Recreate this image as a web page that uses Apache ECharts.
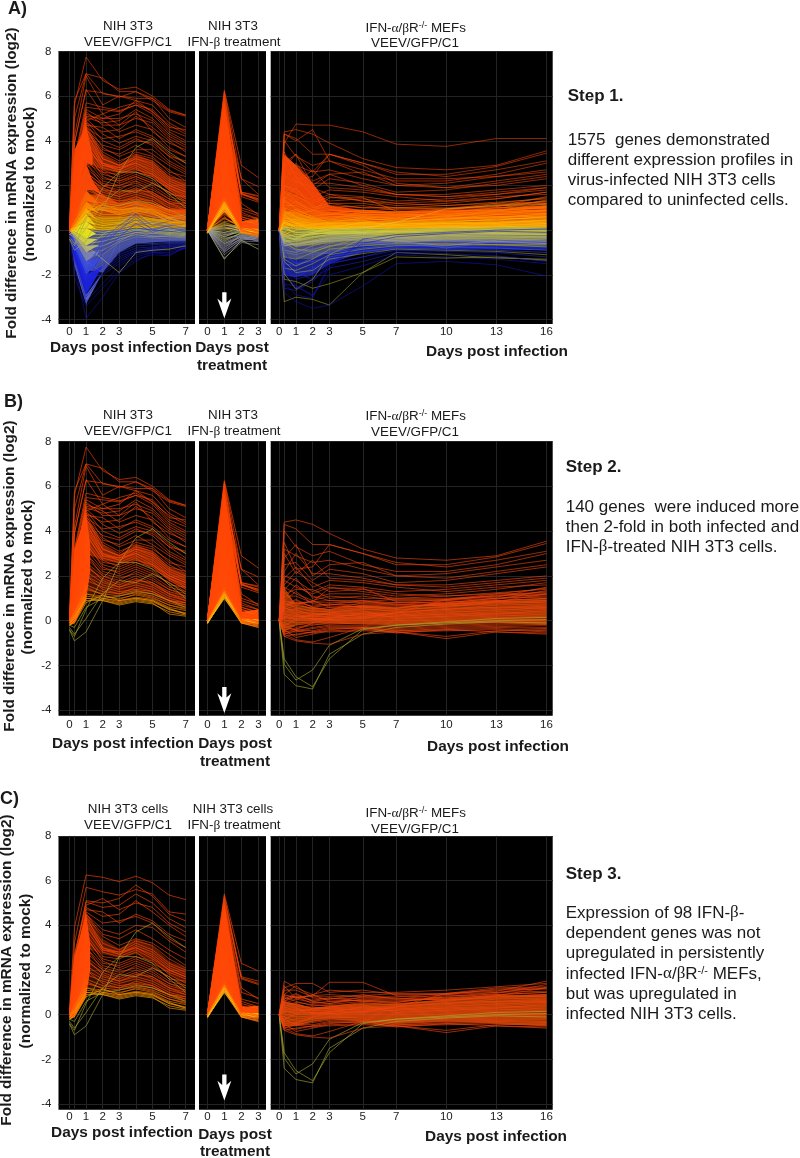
<!DOCTYPE html>
<html><head><meta charset="utf-8">
<style>html,body{margin:0;padding:0;background:#fff}#c{width:800px;height:1158px}</style>
<script src="https://cdn.jsdelivr.net/npm/echarts@6/dist/echarts.min.js"></script>
</head><body><div id="c"></div>
<script>
// ---------- axis values ----------
const daysInfected = [0,0.3,1,2,3,4,5,6,7];
const daysTreated = [0,1,2,3];
const daysMEF = [0,0.3,1,2,3,5,7,10,13,16];
const labelsInfected = [0,1,2,3,5,7];
const labelsTreated = [0,1,2,3];
const labelsMEF = [0,1,2,3,5,7,10,13,16];
const foldTicks = [-4,-2,0,2,4,6,8];

// ---------- 98 IFN-dependent genes (present in panels A, B and C) ----------
const coreInfected = [
[0,3.9,6.25,6.15,5.95,6.2,5.9,5.35,5.15],[0,3.2,5.7,5.5,5.35,5.6,5.4,4.6,4.5],[0,2.6,5.1,5.0,5.2,5.8,5.3,4.5,4.2],
[0,2.4,5.05,4.8,4.9,5.4,5.0,4.3,3.9],[0,2.7,4.9,5.2,4.7,5.0,4.8,4.1,3.7],[0,2.2,4.8,4.4,4.5,5.1,4.6,4.0,3.5],
[0,1.9,4.7,4.6,4.1,4.5,4.2,3.6,3.3],[0,2.0,4.6,4.1,4.2,4.4,4.1,3.4,3.0],[0,1.7,4.5,3.8,3.6,4.0,3.9,3.3,2.8],
[0,1.5,4.5,3.6,3.4,3.8,3.4,2.9,2.5],[0,1.8,4.4,3.5,3.1,3.4,3.2,2.7,2.2],[0,1.3,4.3,3.2,2.9,3.3,3.1,2.5,2.1],
[0,1.1,4.2,3.0,2.8,3.2,2.9,2.3,2.0],[0,1.4,4.0,2.9,2.7,3.0,2.7,2.1,1.8],[0,1.0,3.8,2.8,2.6,2.9,2.5,2.0,1.7],
[0,0.9,3.6,2.6,2.5,2.8,2.3,1.9,1.6],[0,1.2,3.4,2.5,2.3,2.6,2.4,1.8,1.4],[0,0.8,3.2,2.3,2.2,2.5,2.2,1.6,1.5],
[0,0.7,3.0,2.2,2.0,2.3,2.0,1.5,1.3],[0,1.0,2.8,2.1,1.9,2.1,1.8,1.4,1.2],[0,0.6,2.6,2.0,1.7,2.0,1.7,1.3,1.1],
[0,0.8,2.4,1.9,1.6,1.9,1.6,1.2,1.0],[0,0.5,2.2,1.7,1.5,1.7,1.5,1.1,0.9],[0,0.4,2.0,1.6,1.4,1.6,1.4,1.0,0.8],
[0,0.6,1.8,1.5,1.3,1.4,1.3,0.9,0.8],[0,0.3,1.6,1.3,1.2,1.35,1.2,0.9,0.7],[0,0.2,1.4,1.2,1.1,1.25,1.1,0.8,0.6],
[0,0.4,1.2,1.1,1.0,1.15,1.0,0.7,0.55],[-0.1,0.1,1.1,1.0,0.9,1.05,0.95,0.6,0.45],[-0.1,0.2,1.0,0.95,0.8,0.95,0.85,0.5,0.35],
[-0.2,0,0.9,0.9,0.7,0.85,0.75,0.4,0.25],[-0.2,-0.1,0.8,1.15,0.9,1.0,0.9,0.55,0.3],
[-0.4,-0.9,-0.5,0.9,2.6,3.7,4.1,3.5,3.0],[-0.3,-0.6,0.1,1.2,1.8,1.7,2.1,1.7,1.2],[-0.4,-0.7,0.5,1.9,2.6,2.6,2.3,1.6,1.0],[-0.2,-0.3,0.6,1.0,1.1,1.3,1.2,0.9,0.6]];
const coreTreated = [
[0,5.4,2.3,1.95],[0,5.3,1.7,1.5],[0,5.2,1.65,1.4],[0,5.1,1.6,1.35],[0,5.0,1.2,0.7],[0,4.9,1.0,0.75],[0,4.8,0.7,0.5],[0,4.7,0.5,0.3],[0,4.5,0.6,0.35],
[0,4.3,0.4,0.2],[0,4.1,0.35,0.25],[0,3.9,0.3,0.1],[0,3.7,0.4,0.15],[0,3.5,0.25,0.3],[0,3.3,0.2,0.1],[0,3.1,0.3,0.2],[0,2.9,0.15,0.05],[0,2.7,0.1,0],
[0,2.5,0.2,0.15],[0,2.3,0.1,0.05],[0,2.1,0.25,0.1],[0,1.9,0.05,-0.05],[0,1.8,0.15,0.1],[0,1.7,0,-0.1],[0,1.5,0.1,0.05],[0,1.4,0.05,0],[0,1.3,0,-0.05],
[0,1.25,-0.05,-0.1],[0,1.2,0.1,0],[-0.1,1.15,0,-0.1],[-0.1,1.1,-0.05,-0.15],[-0.1,1.05,-0.1,-0.15],[-0.1,1.0,0,-0.1],[-0.15,1.1,0.05,0.05],[-0.1,1.2,-0.05,-0.05],[-0.05,1.3,0,0]];
const coreMEF = [
[0,0.85,0.8,0.85,1.45,1.45,0.85,0.75,0.85,0.8],[0,0.9,0.75,0.85,0.9,0.8,0.8,0.95,1.2,1.25],[0,0.6,0.9,0.6,0.7,0.9,0.7,0.9,1.15,1.2],
[0,0.7,0.8,0.5,0.6,0.65,0.55,0.8,1.0,1.05],[0,0.5,0.7,0.55,0.5,0.7,0.65,0.7,0.9,1.0],[0,0.8,0.6,0.4,0.45,0.6,0.5,0.6,0.85,0.9],
[0,0.4,0.55,0.45,0.4,0.5,0.45,0.65,0.75,0.85],[0,0.55,0.45,0.3,0.35,0.55,0.4,0.5,0.7,0.75],[0,0.3,0.5,0.25,0.3,0.4,0.35,0.55,0.6,0.7],
[0,0.6,0.35,0.35,0.25,0.35,0.3,0.45,0.55,0.65],[0,0.2,0.4,0.2,0.3,0.3,0.25,0.4,0.45,0.6],[0,0.45,0.3,0.15,0.2,0.25,0.2,0.3,0.4,0.5],
[0,0.1,0.2,0.2,0.15,0.3,0.15,0.25,0.35,0.4],[0,0.3,0.1,0.1,0.1,0.2,0.1,0.2,0.3,0.35],[0,-0.1,0.25,0.05,0.15,0.15,0.05,0.15,0.2,0.3],
[0,0.15,0.05,0,0.05,0.1,0,0.1,0.15,0.2],[0,-0.2,0,0.1,0,0.05,-0.05,0.05,0.1,0.15],[0,0.05,-0.1,-0.05,-0.05,0,-0.1,0,0.05,0.05],
[0,-0.3,-0.2,-0.1,-0.1,-0.05,-0.15,-0.05,0,0],[0,-0.1,-0.3,-0.15,-0.15,-0.1,-0.2,-0.1,-0.05,-0.05],[0,-0.4,-0.35,-0.2,-0.1,-0.15,-0.25,-0.15,-0.1,-0.1],
[0,-0.2,-0.45,-0.3,-0.2,-0.2,-0.3,-0.2,-0.15,-0.15],[0,-0.5,-0.5,-0.35,-0.25,-0.25,-0.35,-0.25,-0.2,-0.2],[0,-0.3,-0.4,-0.45,-0.3,-0.3,-0.4,-0.3,-0.25,-0.3],
[0,-0.55,-0.65,-0.5,-0.35,-0.35,-0.45,-0.35,-0.3,-0.35],[0,-0.4,-0.75,-0.6,-0.45,-0.4,-0.5,-0.7,-0.45,-0.4],[0,-0.6,-0.85,-0.95,-0.75,-0.3,-0.55,-0.4,-0.35,-0.45],
[0,-0.7,-0.6,-0.5,-0.5,-0.45,-0.5,-0.45,-0.4,-0.5],[0,0.2,0.05,0.3,0.25,0.2,0.35,0.5,0.6,0.6],[0,0.35,0.2,0.05,0.1,0.35,0.25,0.35,0.5,0.55],
[0,-0.25,0.15,0.25,0.35,0.45,0.1,0.2,0.25,0.25],[0,0.15,0.3,0.1,0.05,0.15,0.2,0.3,0.3,0.45],
[0,-1.95,-2.65,-2.2,-1.1,-0.35,-0.2,-0.05,0.1,0.15],[0,-1.7,-2.5,-2.95,-1.7,-0.4,-0.2,-0.1,0,0.05],[0,-2.4,-2.9,-3.05,-1.5,-0.6,-0.3,-0.15,-0.05,-0.1],[0,-0.5,-0.4,-0.1,0.05,0.1,0.35,0.95,1.1,1.15]];

// ---------- remaining genes of the 140 induced set (panels A and B) ----------
const inducedInfected = [
[0,5.6,7.75,6.7,6.3,6.4,6.0,5.4,5.15],[0,5.8,7.0,6.8,6.2,6.2,5.8,5.3,5.1],[0,5.0,7.0,6.1,6.0,5.9,5.9,5.0,4.6],[0,4.2,6.9,5.6,6.0,5.8,5.6,4.8,4.4],
[0,3.9,6.3,5.2,5.5,5.7,5.3,4.7,4.3],[0,3.1,5.5,5.4,5.3,5.6,5.2,4.4,4.0],[0,2.9,5.4,5.0,5.0,5.2,4.9,4.2,3.8],[0,2.5,5.3,4.7,4.7,5.3,4.4,3.9,3.6],
[0,2.2,5.2,4.9,4.4,4.7,4.5,3.7,3.3],[0,2.4,5.0,4.3,3.9,4.2,4.0,3.3,3.1],[0,2.0,4.9,4.0,3.7,4.1,3.8,3.1,2.7],[0,1.7,4.8,3.7,3.3,3.6,3.6,3.0,2.6],
[0,1.9,4.7,3.4,3.0,3.5,3.3,2.6,2.4],[0,1.5,4.6,3.2,2.9,3.2,3.0,2.4,2.2],[0,1.2,4.4,3.0,2.7,3.1,2.8,2.2,1.9],[0,1.4,4.1,2.9,2.8,3.0,2.6,2.0,1.7],
[0,1.0,3.9,2.7,2.4,2.7,2.5,1.9,1.5],[0,0.9,3.5,2.4,2.1,2.4,2.1,1.7,1.3],[0,0.8,3.0,2.0,1.8,2.2,1.9,1.4,1.1],[0,0.7,2.5,1.8,1.5,1.8,1.7,1.2,0.9],
[0,0.5,2.0,1.4,1.2,1.5,1.3,0.9,0.7],[0,0.3,1.5,1.15,0.95,1.2,1.05,0.7,0.5],[0,0.2,1.2,1.0,0.85,1.0,0.9,0.5,0.3],[-0.1,0.1,1.0,0.9,0.75,0.9,0.8,0.3,0.2]];
const inducedTreated = [
[0,6.25,2.9,2.35],[0,6.2,2.3,1.6],[0,6.1,1.7,1.55],[0,6.0,1.65,1.3],[0,5.9,1.6,1.4],[0,5.8,1.5,1.25],[0,5.7,0.9,0.65],[0,5.65,0.8,0.5],[0,5.6,0.6,0.4],
[0,5.5,0.5,0.3],[0,5.4,0.4,0.1],[0,5.2,0.3,0.2],[0,4.9,0.35,0.05],[0,4.6,0.2,-0.05],[0,4.3,0.15,0.1],[0,3.8,0.1,-0.1],[0,3.3,0,-0.2],[0,2.8,0.2,-0.05],
[0,2.3,-0.05,-0.15],[0,1.9,0.05,-0.25],[0,1.6,-0.1,-0.3],[0,1.3,-0.05,-0.2],[0,1.1,-0.1,-0.3],[-0.1,1.0,-0.1,-0.25]];
const inducedMEF = [
[0,4.4,4.5,4.3,3.9,3.2,2.8,2.7,2.9,3.55],[0,4.3,4.1,3.4,3.4,3.0,2.5,2.5,2.85,3.45],[0,3.5,2.3,2.4,3.4,3.0,2.6,2.4,2.7,3.1],[0,4.0,3.3,2.9,3.1,2.5,2.2,2.2,2.5,3.0],
[0,3.2,2.9,2.6,2.7,2.3,2.0,2.1,2.4,2.7],[0,2.8,3.4,2.0,2.5,2.6,2.0,1.9,2.2,2.5],[0,2.5,2.6,1.8,2.3,2.1,1.7,1.8,2.1,2.4],[0,2.2,3.0,2.1,2.1,1.9,1.6,1.6,1.8,2.0],
[0,3.0,2.1,2.7,1.9,1.8,1.6,1.5,1.7,1.9],[0,1.9,2.4,1.5,1.8,1.7,1.5,1.3,1.5,1.6],[0,2.0,1.8,1.3,1.6,1.5,1.3,1.4,1.6,1.8],[0,1.6,2.2,1.7,1.3,1.4,1.2,1.1,1.2,1.45],
[0,1.8,1.5,1.2,1.5,1.3,1.1,1.2,1.4,1.7],[0,1.4,1.9,1.0,1.2,1.2,1.0,1.0,1.1,1.3],[0,1.2,1.4,1.4,1.0,1.1,0.9,0.9,1.0,1.2],[0,1.5,1.2,0.9,1.1,1.0,1.0,1.1,1.25,1.4],
[0,1.0,1.6,1.1,0.9,0.9,0.8,0.8,1.0,1.1],[0,1.1,1.1,0.8,0.8,0.85,0.95,0.95,1.05,1.5],[0,0.9,1.3,0.75,0.7,0.75,0.7,0.7,0.85,1.2],[0,-0.7,-0.9,-1.0,-1.05,-0.6,-0.5,-0.8,-0.5,-0.55],
[0,1.3,0.7,0.9,0.6,0.65,0.6,0.75,0.95,1.35],[0,0.7,0.95,0.6,0.5,0.8,0.75,0.65,0.8,0.9],[0,0.6,0.8,0.65,0.75,0.6,0.55,0.85,0.9,1.0],[0,-0.6,-0.45,-0.55,-0.4,-0.3,-0.45,-0.4,-0.5,-0.6]];

// ---------- other genes of the 1575 set (panel A only) ----------
const otherInfected = [
[0,0.9,3.0,2.6,2.2,2.4,2.1,1.7,1.4],[0,1.1,3.5,3.0,2.6,2.6,2.4,1.8,1.3],[0,1.3,2.6,2.0,2.0,2.2,1.6,1.2,1.2],[0,0.6,2.2,1.8,1.7,1.8,1.5,1.0,0.9],
[0,0.7,1.9,1.5,1.3,1.5,1.2,0.9,0.9],[0,0.4,1.6,1.2,1.1,1.4,1.1,0.85,0.8],[0,0.3,1.4,1.0,0.95,1.2,0.95,0.7,0.6],[0,0.3,1.2,0.9,0.8,1.0,0.8,0.6,0.55],
[0,0.2,1.0,0.7,0.7,0.9,0.7,0.55,0.5],[0,0.2,0.9,0.6,0.6,0.8,0.6,0.5,0.4],[0,0.15,0.8,0.5,0.55,0.65,0.5,0.4,0.35],[0,0.1,0.7,0.4,0.45,0.55,0.45,0.35,0.3],
[0,0.1,0.6,0.3,0.35,0.5,0.35,0.25,0.2],[0,0.05,0.4,0.2,0.3,0.4,0.3,0.2,0.15],[0,0.05,0.2,0.1,0.15,0.35,0.2,0.1,0.05],[0,0,0.1,0,0.1,0.25,0.1,0.05,0],
[0,0,0,-0.1,0,0.15,0.05,0,-0.1],[0,-0.05,-0.2,-0.2,-0.1,0.05,-0.05,-0.1,-0.15],[0,-0.1,-0.4,-0.3,-0.2,0,-0.1,-0.15,-0.2],[0,-0.15,-0.6,-0.5,-0.3,-0.1,-0.15,-0.2,-0.25],
[0,-0.2,-0.8,-0.7,-0.4,-0.2,-0.3,-0.25,-0.3],[0,-0.3,-1.0,-0.9,-0.5,-0.1,-0.25,-0.3,-0.35],[0,-0.35,-1.2,-1.1,-0.55,-0.3,-0.35,-0.4,-0.4],[0,-0.4,-1.4,-1.9,-0.4,1.2,0.6,0.5,0.55],
[0,-0.5,-1.5,-1.2,-0.7,-0.4,-0.45,-0.45,-0.45],[0,-0.55,-1.6,-1.3,-0.8,-0.5,-0.5,-0.5,-0.5],[0,-0.6,-1.8,-1.4,-0.9,-0.6,-0.6,-0.55,-0.55],[0,-0.7,-2.0,-1.5,-1.0,-0.7,-0.65,-0.6,-0.6],
[0,-0.8,-2.2,-1.6,-1.1,-0.8,-0.75,-0.65,-0.65],[0,-0.9,-2.4,-1.7,-1.2,-0.9,-0.8,-0.7,-0.7],[0,-1.0,-2.6,-1.8,-1.3,-0.95,-0.85,-0.75,-0.7],[0,-1.1,-2.8,-1.9,-1.4,-1.0,-0.9,-0.8,-0.75],
[0,-1.2,-3.0,-2.0,-1.5,-1.1,-0.95,-0.9,-0.8],[0,-1.3,-3.2,-2.4,-1.6,-1.2,-1.0,-1.0,-0.8],[0,-2.1,-3.4,-2.6,-1.8,-1.3,-1.1,-1.15,-0.75],[0,-1.5,-3.95,-3.0,-1.9,-1.4,-1.0,-1.1,-0.8],
[0,-0.2,-0.7,-1.3,-1.9,-1.0,-0.9,-0.85,-0.7],[0,-0.8,-2.1,-0.7,0,0.6,0,0.2,0.3],[0,-0.6,-1.7,-0.6,0.1,0.45,0.05,0.25,0.1],[0,-0.9,-2.3,-1.0,-0.3,0.3,-0.1,0.1,0],
[0,-0.5,-1.6,-0.5,0,0.25,0.35,0.15,-0.1],[0,-0.7,-1.9,-0.4,0.2,0.7,0.2,0.4,0.45],[0,-0.2,-0.9,-0.2,0.3,0.8,0.3,0.55,0.7]];
const otherTreated = [
[0,0.8,0.3,0.6],[0,0.7,0.2,0.5],[0,0.9,0.35,0.45],[0,0.6,0.1,0.3],[0,0.5,0.25,0.35],[0,0.75,0.15,0.2],[0,0.4,0.3,0.4],[0,0.3,0.05,0.25],[0,0.2,0.2,0.1],[0,0.15,-0.05,0.3],
[0,0.55,0.1,0.15],[0,0.1,0,0.2],[0,0.05,0.15,-0.1],[0,-0.1,0.1,0.05],[0,-0.2,-0.1,0],[0,0.25,0.05,-0.05],[0,-0.3,0,-0.15],[0,-0.4,-0.15,-0.1],[0,-0.5,-0.1,-0.2],[0,0.35,0.1,-0.25],
[0,-0.6,-0.25,-0.2],[0,-0.7,-0.3,-0.3],[0,-0.8,-0.2,-0.35],[0,-0.15,-0.05,0.1],[0,-0.9,-0.35,-0.25],[0,-0.75,-0.4,-0.3],[0,-0.65,-0.3,-0.4],[0,-0.55,-0.2,-0.15],[0,-0.95,-0.45,-0.35],[0,-0.85,-0.35,-0.45],
[0,-1.0,-0.4,-0.45],[0,-0.45,-0.15,-0.3],[0,-0.35,-0.25,-0.4],[0,-1.1,-0.5,-0.5],[0,-1.25,-0.55,-0.65],[0,-0.6,-0.3,-0.5],[0,-1.3,-0.45,-0.85],[0,-0.25,0.05,0.2],[0,0.1,0.2,0.3],[0,-0.3,-0.05,0.15],[0,0,0.1,0.05],[0,0.2,0.15,0.1],[0,-0.1,0,0.25]];
const otherMEF = [
[0,3.9,4.75,4.7,4.7,4.4,3.85,3.75,4.1,4.1],[0,4.3,4.0,4.5,3.1,2.7,2.3,2.3,2.4,2.6],[0,3.0,3.4,2.6,3.4,2.9,2.1,1.9,2.0,2.3],[0,2.6,2.9,2.2,2.5,2.0,1.6,1.5,1.6,1.9],
[0,2.4,2.2,1.9,1.6,1.3,1.2,1.3,1.4,1.7],[0,3.3,2.4,1.5,1.2,1.0,1.0,0.95,1.05,1.3],[0,2.0,1.7,1.2,0.9,0.8,0.8,0.8,0.9,1.1],[0,1.7,1.3,0.9,0.7,0.7,0.7,0.7,0.85,1.05],
[0,1.3,1.0,0.7,0.55,0.55,0.6,0.6,0.7,0.9],[0,1.0,0.8,0.5,0.45,0.45,0.5,0.5,0.55,0.75],[0,0.8,0.5,0.4,0.3,0.35,0.4,0.4,0.45,0.6],[0,0.6,0.3,0.25,0.2,0.25,0.3,0.3,0.35,0.45],
[0,0.3,0.15,0.1,0.1,0.15,0.2,0.2,0.25,0.3],[0,0.1,-0.1,-0.1,0,0.05,0.1,0.1,0.1,0.15],[0,-0.3,-0.4,-0.3,-0.2,-0.1,-0.05,0,0,0],[0,-0.6,-0.7,-0.5,-0.35,-0.2,-0.2,-0.15,-0.1,-0.1],
[0,-0.9,-1.0,-0.7,-0.5,-0.35,-0.3,-0.25,-0.2,-0.2],[0,-1.2,-1.3,-1.0,-0.7,-0.5,-0.45,-0.4,-0.35,-0.3],[0,-1.5,-1.6,-1.2,-0.9,-0.65,-0.55,-0.5,-0.5,-0.45],[0,-0.9,-1.9,-2.2,-1.2,-0.8,-0.6,-0.6,-0.6,-0.55],
[0,-1.7,-1.8,-1.5,-1.1,-0.85,-0.7,-0.65,-0.65,-0.65],[0,-2.0,-2.1,-1.7,-1.3,-1.0,-0.75,-0.7,-0.75,-0.75],[0,-2.6,-2.7,-2.3,-1.5,-1.2,-0.8,-0.75,-0.85,-0.85],[0,-3.2,-3.0,-3.1,-3.35,-1.9,-1.0,-1.1,-1.25,-1.3],
[0,-2.8,-3.2,-3.5,-3.35,-2.5,-1.5,-1.4,-1.55,-2.05],[0,-2.4,-2.5,-2.9,-2.0,-1.6,-1.1,-1.2,-1.3,-1.5],[0,-2.2,-2.3,-2.6,-2.4,-1.9,-1.2,-1.25,-1.2,-1.35],[0,-1.9,-2.6,-2.2,-1.7,-1.4,-1.0,-1.05,-1.15,-1.4],
[0,-1.6,-2.2,-2.0,-1.5,-1.2,-0.9,-0.95,-1.0,-1.2],[0,-1.4,-1.9,-1.8,-1.3,-1.05,-0.85,-0.9,-0.95,-1.1],[0,-1.1,-1.5,-1.4,-1.2,-0.95,-0.8,-0.85,-0.9,-1.0],[0,-0.8,-1.2,-1.1,-1.0,-0.8,-0.65,-0.75,-0.8,-0.9],
[0,-1.3,-1.6,-1.3,-0.85,-0.7,-0.6,-0.6,-0.65,-0.75],[0,-0.5,-0.9,-0.85,-0.7,-0.6,-0.5,-0.5,-0.55,-0.6],[0,-1.0,-1.1,-0.9,-0.6,-0.5,-0.45,-0.45,-0.5,-0.5],[0,-0.4,-0.7,-0.6,-0.45,-0.4,-0.35,-0.35,-0.4,-0.4],
[0,-0.7,-0.6,-0.5,-0.4,-0.3,-0.3,-0.25,-0.3,-0.3],[0,0.4,0.1,0,-0.05,-0.1,-0.05,-0.1,-0.15,-0.2],[0,1.4,0.9,0.6,0.35,0.3,0.25,0.25,0.3,0.35],[0,0.9,0.6,0.3,0.25,0.2,0.15,0.15,0.2,0.25],
[0,0.2,-0.2,-0.2,-0.1,-0.05,0,0.05,0.05,0.1],[0,-0.2,-0.3,-0.15,-0.15,-0.15,-0.1,-0.1,-0.05,-0.05],[0,0.7,0.35,0.15,0.15,0.1,0.1,0.15,0.15,0.2]];

// ---------- dense line masses: each band lists [day, low, high] ----------
const bandsA1Tail = [
 [[1,-1.8,0],[2,-1.9,0],[3,-1.0,0],[4,-0.6,0.1],[5,-0.55,0.1],[6,-0.5,0.1],[7,-0.5,0.1]],
 [[1,0,0.6],[2,0,0.6],[3,0,0.6],[4,0.1,0.65],[5,0.1,0.55],[6,0.1,0.45],[7,0.1,0.4]],
 [[1,0.6,1.6],[2,0.6,1.6],[3,0.6,1.2],[4,0.65,1.3],[5,0.55,1.15],[6,0.45,0.95],[7,0.4,0.9]]];
const bandsA1 = [
 [[0,0,0],[0.3,1.6,3.6],[1,3.0,4.7],[1.4,2.9,3.3]],
 [[0,0,0],[0.3,0.8,1.6],[1,1.8,3.0],[1.4,1.8,2.2],[2,1.55,1.55]],
 [[0,0,0],[0.3,0.45,0.8],[1,1.3,1.8],[1.8,1.15,1.15]],
 [[0,0,0],[0.3,0.3,0.45],[1,1.0,1.3],[1.8,0.75,0.75]],
 [[0,0,0],[0.3,0.2,0.3],[1,0.75,1.0],[1.7,0.45,0.45]],
 [[0,0,0],[0.3,0.12,0.2],[1,0.4,0.75],[1.6,0.2,0.2]],
 [[0,0,0],[0.3,0.03,0.12],[1,0.1,0.4],[1.6,0.05,0.05]],
 [[0,0,0],[0.3,-0.06,0.03],[1,-0.4,0.1],[1.6,-0.15,-0.15]],
 [[0,0,0],[0.3,-0.18,-0.06],[1,-0.7,-0.4],[1.7,-0.4,-0.4]],
 [[0,0,0],[0.3,-0.3,-0.18],[1,-1.0,-0.7],[1.8,-0.65,-0.65]],
 [[0,0,0],[0.3,-0.5,-0.3],[1,-1.4,-1.0],[1.9,-0.95,-0.95]],
 [[0,0,0],[0.3,-0.8,-0.5],[1,-2.0,-1.4],[2,-1.25,-1.25]],
 [[0,0,0],[0.3,-1.2,-0.8],[1,-2.9,-2.0],[2,-1.6,-1.6]],
 [[0,0,0],[0.3,-1.6,-1.2],[1,-3.3,-2.9],[2,-1.9,-1.9]]];
const bundleUpper = [[[1,3.0,4.6],[2,2.7,3.4],[3,2.55,2.95],[4,2.7,3.4],[5,2.4,3.1],[6,1.8,2.4],[7,1.4,2.1]]];
const bundleLower = [[[1,1.2,2.6],[2,1.2,1.9],[3,1.1,1.7],[4,1.2,1.9],[5,1.1,1.7],[6,0.8,1.3],[7,0.6,1.1]]];
const bandsA2Tail = [[[2,-0.1,0.4],[3,-0.2,0.5]]];
const bandsA2 = [
 [[0,0,0],[1,1.0,5.6],[2,0.1,0.5]],
 [[0,0,0],[1,0.8,1.1],[2,0,0.1]]];
const bandsA3Low = [
 [[0,0,0],[0.3,-2.0,-1.2],[1,-2.1,-1.3],[2,-2.0,-1.3],[3,-1.5,-1.0],[5,-1.0,-0.7],[7,-0.85,-0.7],[10,-0.85,-0.7],[13,-0.85,-0.7],[16,-0.9,-0.75]],
 [[0,0,0],[0.3,-1.2,-0.5],[1,-1.3,-0.7],[2,-1.3,-0.7],[3,-1.0,-0.6],[5,-0.7,-0.4],[7,-0.7,-0.4],[10,-0.7,-0.4],[13,-0.7,-0.4],[16,-0.75,-0.4]],
 [[0,0,0],[0.3,-0.5,0.2],[1,-0.7,0.15],[2,-0.7,0.1],[3,-0.6,0.1],[5,-0.4,0.1],[7,-0.4,0.1],[10,-0.4,0.1],[13,-0.4,0.1],[16,-0.4,0.1]]];
const bandsA3High = [
 [[0,0,0],[0.3,0.2,0.9],[1,0.15,0.8],[2,0.1,0.6],[3,0.1,0.4],[5,0.1,0.4],[7,0.1,0.4],[10,0.1,0.4],[13,0.1,0.4],[16,0.1,0.5]],
 [[0,0,0],[0.3,0.9,1.8],[1,0.8,1.6],[2,0.6,1.2],[3,0.4,0.85],[5,0.4,0.75],[7,0.4,0.75],[10,0.4,0.8],[13,0.4,0.85],[16,0.5,0.95]],
 [[0,0,0],[0.3,1.8,3.4],[1,1.6,2.9],[2,1.2,2.1],[3,0.85,1.1],[5,0.75,0.9],[7,0.75,0.85],[10,0.8,0.9],[13,0.85,0.95],[16,0.95,1.1]]];
const bandsB1 = [[[0,-0.2,0],[0.3,-0.1,3.2],[1,0.9,4.8],[1.25,2.2,3.4]]];
const bandsB2 = [[[2,0,0.4],[3,-0.15,0.5]],[[0,-0.05,0],[1,1.05,5.6],[2,0.05,0.45]]];
const bandsB3 = [[[0,0,0],[0.3,-0.5,1.5],[1,-0.2,0.7],[2,-0.1,0.6],[3,-0.1,0.5],[5,-0.15,0.7],[7,-0.2,0.6],[10,-0.1,0.8],[13,-0.1,0.9],[16,-0.2,1.0]]];
const bandsC1 = [[[0,-0.2,0],[0.3,-0.1,2.6],[1,0.8,4.5],[1.25,2.0,3.2]]];
const bandsC2 = [[[2,0,0.35],[3,-0.1,0.4]],[[0,-0.05,0],[1,1.05,5.0],[2,0.05,0.45]]];
const bandsC3 = [[[0,0,0],[0.3,-0.5,0.6],[1,-0.5,0.5],[2,-0.3,0.3],[3,-0.2,0.4],[5,-0.3,0.5],[7,-0.4,0.5],[10,-0.3,0.7],[13,-0.4,0.85],[16,-0.5,0.9]]];

// ---------- IFN-beta treatment arrows [day, fold] ----------
const arrowA = [[1,-3.36]], arrowB = [[1,-3.54]], arrowC = [[1,-3.26]];

// ---------- helpers ----------
const stops = [[-3.2,[20,20,190]],[-2.2,[30,40,235]],[-1.5,[70,90,215]],[-1.1,[144,144,170]],[-0.7,[200,200,96]],[-0.2,[232,232,32]],
  [0.4,[240,224,32]],[0.8,[255,176,0]],[1.3,[255,112,0]],[2,[255,74,8]],[8,[255,64,0]]];
function heat(v){
  if(v<=stops[0][0])return 'rgb('+stops[0][1]+')';
  for(let i=1;i<stops.length;i++){ if(v<=stops[i][0]){
    const t=(v-stops[i-1][0])/(stops[i][0]-stops[i-1][0]);
    return 'rgb('+stops[i-1][1].map((c,k)=>Math.round(c+(stops[i][1][k]-c)*t)).join(',')+')';
  }}
  return 'rgb(255,64,0)';
}
const induced = v => heat(Math.max(v,1.6));
const muted = v => v>0 ? heat(v+0.6) : heat(v-0.4);
const OLIVE = '#a8a830';
const series=[];
function addBands(g,bands,colorFn,op){
  bands.forEach(rows=>{
    let widest=rows[0]; rows.forEach(r=>{if(r[2]-r[1]>widest[2]-widest[1]) widest=r;});
    const color=colorFn((widest[1]+widest[2])/2);
    series.push({type:'custom',xAxisIndex:g,yAxisIndex:g,silent:true,clip:true,animation:false,z:2,data:rows,
      encode:{x:0,y:[1,2]},
      renderItem:(p,api)=>{
        if(p.dataIndex!==0) return null;
        const pts=rows.map(r=>api.coord([r[0],r[2]])).concat(rows.slice().reverse().map(r=>api.coord([r[0],r[1]])));
        return {type:'polygon',shape:{points:pts},style:{fill:color,opacity:op}};
      }});
  });
}
function addLines(g,xs,rows,colorOf,w,op){
  rows.forEach((r,i)=>series.push({type:'line',xAxisIndex:g,yAxisIndex:g,silent:true,showSymbol:false,animation:false,clip:true,z:3,
    data:xs.map((x,k)=>[x,r[k]]),lineStyle:{color:colorOf(i,r),width:w,opacity:op}}));
}
function addArrow(g,pt,h){
  series.push({type:'scatter',xAxisIndex:g,yAxisIndex:g,silent:true,animation:false,z:6,data:pt,
    symbol:'path://M4.5,0 L8.5,0 L8.5,10 L13,6 L6.5,25 L0,6 L4.5,10 Z',symbolSize:[14,h],symbolKeepAspect:false,itemStyle:{color:'#fff',opacity:1}});
}

// gene sets
const b1=[...coreInfected,...inducedInfected], b2=[...coreTreated,...inducedTreated], b3=[...coreMEF,...inducedMEF];
const keep=b3.map(r=>Math.max(...r)<=1.5);
const c1=b1.filter((r,i)=>keep[i]), c2=b2.filter((r,i)=>keep[i]), c3=b3.filter((r,i)=>keep[i]);
const dipping=r=>Math.min(...r)<-0.25;

// layout
const rowsCfg=[
 {top:51.4,bottom:324,min:-4.2,margin:2},
 {top:441.5,bottom:715.7,min:-4.24,margin:3},
 {top:835.9,bottom:1109.7,min:-4.25,margin:1}];
const colsCfg=[
 {l:58.5,r:195,min:-0.66,max:7.56,ticks:daysInfected,labels:labelsInfected},
 {l:199,r:266,min:-0.49,max:3.45,ticks:daysTreated,labels:labelsTreated},
 {l:270.7,r:552.7,min:-0.51,max:16.37,ticks:daysMEF,labels:labelsMEF}];
const grids=[],xAxes=[],yAxes=[];
rowsCfg.forEach(R=>colsCfg.forEach((C,ci)=>{
  grids.push({left:C.l,top:R.top,width:C.r-C.l,height:R.bottom-R.top,show:true,backgroundColor:'#000',borderWidth:0});
  const idx=grids.length-1;
  const split={show:true,lineStyle:{color:'#242424',width:1}};
  xAxes.push({gridIndex:idx,type:'value',min:C.min,max:C.max,axisLine:{show:false},
    axisTick:{show:false,customValues:C.ticks},splitLine:split,
    axisLabel:{customValues:C.labels,color:'#222',fontFamily:'Liberation Sans',fontSize:11.5,margin:R.margin}});
  yAxes.push({gridIndex:idx,type:'value',min:R.min,max:8,axisLine:{show:false},
    axisTick:{show:ci===0,length:5,customValues:foldTicks,lineStyle:{color:'#222'}},splitLine:split,
    axisLabel:{show:ci===0,customValues:foldTicks,color:'#222',fontFamily:'Liberation Sans',fontSize:11.5,margin:7}});
}));

const thin=0.75;
// row A
addBands(0,bandsA1Tail,muted,0.72);
addBands(0,bundleLower,induced,0.28);
addBands(0,bundleUpper,induced,0.5);
addBands(0,bandsA1,heat,0.95);
addLines(0,daysInfected,otherInfected,(i,r)=>heat(r[2]),thin,0.7);
addLines(0,daysInfected,b1,(i,r)=>dipping(r)?OLIVE:heat(r[2]),thin,0.8);
addBands(1,bandsA2Tail,muted,0.85);
addBands(1,bandsA2,heat,1);
addLines(1,daysTreated,otherTreated,(i)=>heat(Math.max(otherInfected[i]?otherInfected[i][2]:0,-1.1)),thin,0.8);
addLines(1,daysTreated,b2,(i,r)=>heat(b1[i][2]),thin,0.85);
addArrow(1,arrowA,26);
addBands(2,bandsA3Low,muted,0.62);
addBands(2,bandsA3High,muted,0.92);
addLines(2,daysMEF,otherMEF,(i,r)=>(r[3]<-0.6&&i%3===2)?OLIVE:muted(r[3]),thin,0.75);
addLines(2,daysMEF,b3,(i,r)=>(r[3]<-0.6&&i%3===2)?OLIVE:muted(r[3]),thin,0.75);
// row B
addBands(3,bundleLower,induced,0.28);
addBands(3,bundleUpper,induced,0.5);
addBands(3,bandsB1,induced,1);
addLines(3,daysInfected,b1,(i,r)=>dipping(r)?OLIVE:heat(r[2]),thin,0.85);
addBands(4,bandsB2,induced,1);
addLines(4,daysTreated,b2,(i)=>heat(b1[i][2]),thin,0.9);
addArrow(4,arrowB,26);
addBands(5,bandsB3,induced,0.55);
addLines(5,daysMEF,b3,(i,r)=>Math.min(...r)<-1.5?OLIVE:'#f0440c',thin,0.85);
// row C
addBands(6,bundleLower,induced,0.22);
addBands(6,bundleUpper,induced,0.35);
addBands(6,bandsC1,induced,1);
addLines(6,daysInfected,c1,(i,r)=>dipping(r)?OLIVE:heat(r[2]),thin,0.85);
addBands(7,bandsC2,induced,1);
addLines(7,daysTreated,c2,(i)=>heat(c1[i][2]),thin,0.9);
addArrow(7,arrowC,26);
addBands(8,bandsC3,induced,0.6);
addLines(8,daysMEF,c3,(i,r)=>Math.min(...r)<-1.5?OLIVE:'#f0440c',thin,0.85);

// ---------- text ----------
const SANS='"Liberation Sans",Arial,sans-serif';
const txt=[];
function T(x,y,text,size,bold,align,rot,rich){
  txt.push({type:'text',x,y,rotation:rot||0,silent:true,z:10,style:{text,font:(bold?'bold ':'')+size+'px '+SANS,fill:'#1a1a1a',align:align||'center',verticalAlign:'middle',rich}});
}
const richIFN={g:{fontFamily:'Liberation Serif',fontSize:13.4,fill:'#1a1a1a'},n:{fontFamily:'Liberation Sans',fontSize:13.4,fill:'#1a1a1a'},
  sup:{fontFamily:'Liberation Sans',fontSize:9,fill:'#1a1a1a',verticalAlign:'top'}};
const richBody={g:{fontFamily:'Liberation Serif',fontSize:17,fill:'#1a1a1a'},n:{fontFamily:'Liberation Sans',fontSize:17,fill:'#1a1a1a'},
  sup:{fontFamily:'Liberation Sans',fontSize:11,fill:'#1a1a1a',verticalAlign:'top'}};
const ifnBeta='{n|IFN-}{g|β}{n| treatment}';
const mef='{n|IFN-}{g|α}{n|/}{g|β}{n|R}{sup|-/-}{n| MEFs}';
function titles(y1,y2,y3,y4,first){
  T(128,y1,first,13.4); T(128,y2,'VEEV/GFP/C1',13.4);
  T(233,y1,first,13.4); T(234,y2,ifnBeta,13.4,false,'center',0,richIFN);
  T(415.7,y3,mef,13.4,false,'center',0,richIFN); T(415,y4,'VEEV/GFP/C1',13.4);
}
T(8,9,'A)',18,true,'left'); T(4,402,'B)',18,true,'left'); T(0,799,'C)',18,true,'left');
titles(26,42,28,43,'NIH 3T3'); titles(415,431,416,432,'NIH 3T3'); titles(809,825,813,829,'NIH 3T3 cells');
function yl(x1,x2,yc){
  T(x1,yc,'Fold difference in mRNA expression (log2)',15.4,true,'center',Math.PI/2);
  T(x2,yc+1,'(normalized to mock)',15.4,true,'center',Math.PI/2);
}
yl(12,30,183); yl(10,28,576); yl(7,26,970);
function xl(x1,y1,x2,y2,y3,x3,y4){
  T(x1,y1,'Days post infection',15.4,true,'center');
  T(x2,y2,'Days post',15.4,true,'center'); T(x2,y3,'treatment',15.4,true,'center');
  T(x3,y4,'Days post infection',15.4,true,'center');
}
xl(121,348,232,348,366,497,352); xl(123,744,235,744,762,498,747); xl(122,1133,235,1135,1152,496,1137);
function step(x,y,head,lines,ys){
  T(x,y,head,17,true,'left');
  lines.forEach((l,i)=>T(x,ys[i],l,17,false,'left',0,l.indexOf('{')>=0?richBody:undefined));
}
step(567.7,96,'Step 1.',['1575  genes demonstrated','different expression profiles in','virus-infected NIH 3T3 cells','compared to uninfected cells.'],[140,160,180.5,200]);
step(565.7,467.7,'Step 2.',['140 genes  were induced more','then 2-fold in both infected and','{n|IFN-}{g|β}{n|-treated NIH 3T3 cells.}'],[507,527,547]);
step(565.7,874,'Step 3.',['{n|Expression of 98 IFN-}{g|β}{n|-}','dependent genes was not','upregulated in persistently','{n|infected IFN-}{g|α}{n|/}{g|β}{n|R}{sup|-/-}{n| MEFs,}','but was upregulated in','infected NIH 3T3 cells.'],[913,933,953,974,994,1014]);

const chart=echarts.init(document.getElementById('c'),null,{renderer:'canvas'});
chart.setOption({animation:false,backgroundColor:'#fff',grid:grids,xAxis:xAxes,yAxis:yAxes,series,graphic:txt});
</script></body></html>
